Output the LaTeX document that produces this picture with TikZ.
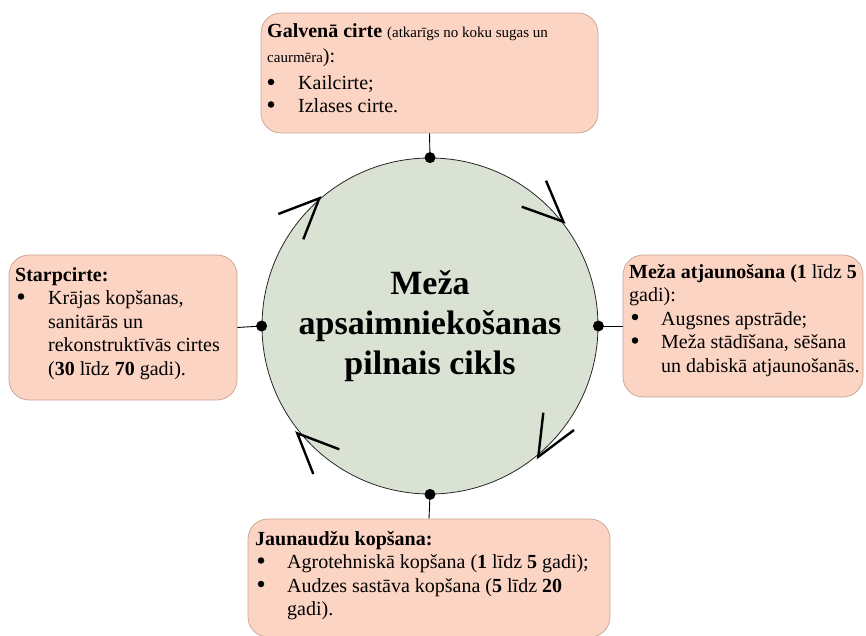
\documentclass[tikz,border=0pt]{standalone}
\usepackage{fontspec}
\setmainfont{Liberation Serif}
\definecolor{boxfill}{HTML}{FBD4C3}
\definecolor{boxline}{HTML}{C9A193}
\definecolor{circfill}{HTML}{DAE3D3}
\begin{document}
\begin{tikzpicture}[x=1pt,y=-1pt,
  box/.style={draw=boxline, line width=0.7pt, fill=boxfill, rounded corners=20pt, inner sep=0pt},
  txt/.style={anchor=base west, inner sep=0pt, font=\fontsize{20}{23.5}\selectfont},
  ctr/.style={align=center, inner sep=0pt, font=\fontsize{34}{40}\selectfont\bfseries},
  dot/.style={circle, fill=black, minimum size=11pt, inner sep=0pt},
  bdot/.style={circle, fill=black, minimum size=6.5pt, inner sep=0pt},
  conn/.style={line width=0.9pt},
  chev/.style={line width=2.4pt, line cap=butt, line join=miter}]
\useasboundingbox (0,0) rectangle (866,636);
% boxes
\node[box, minimum width=337pt, minimum height=120pt] (topb) at (429.5,73) {};
\node[box, minimum width=228pt, minimum height=145pt] (leftb) at (123,327.5) {};
\node[box, minimum width=240pt, minimum height=142pt] (rightb) at (743,326) {};
\node[box, minimum width=362pt, minimum height=118pt] (botb) at (429,578) {};
% circle
\node[circle, draw=black!85, line width=0.8pt, fill=circfill, minimum size=336pt, inner sep=0pt] (cyc) at (430,326) {};
\node[ctr] (title) at (430,326) {Meža\\apsaimniekošanas\\pilnais cikls};
% dots
\node[dot] (dt) at (cyc.north) {};
\node[dot] (db) at (cyc.south) {};
\node[dot] (dl) at (cyc.west) {};
\node[dot] (dr) at (cyc.east) {};
% connectors
\draw[conn] (topb.south) -- (dt.center);
\draw[conn] (botb.north) -- (db.center);
\draw[conn] (leftb.east) -- (dl.center);
\draw[conn] (rightb.west) -- (dr.center);
% chevrons (clockwise)
\draw[chev] (278.3,214) -- (319.3,198.3) -- (303.3,239.3);
\draw[chev] (521.7,206.7) -- (563.3,221.7) -- (546,180.7);
\draw[chev] (543.3,412.7) -- (538.3,456.7) -- (574,430);
\draw[chev] (339.3,449.3) -- (297.3,433.3) -- (313.3,474);
% top box text
\node[txt] (t1) at (267,38) {\textbf{Galvenā cirte} {\fontsize{15}{17}\selectfont(atkarīgs no koku sugas un}};
\node[txt] (t2) at (267,63) {{\fontsize{15}{17}\selectfont caurmēra}):};
\node[bdot] (t3) at (271,82) {};
\node[txt] (t4) at (298,90) {Kailcirte;};
\node[bdot] (t5) at (271,104.5) {};
\node[txt] (t6) at (298,112.5) {Izlases cirte.};
% left box text
\node[txt] (l1) at (15,281) {\textbf{Starpcirte:}};
\node[bdot] (l2) at (21,296.5) {};
\node[txt] (l3) at (48,304.5) {Krājas kopšanas,};
\node[txt] (l4) at (48,328) {sanitārās un};
\node[txt] (l5) at (48,351.5) {rekonstruktīvās cirtes};
\node[txt] (l6) at (48,375) {(\textbf{30} līdz \textbf{70} gadi).};
% right box text
\node[txt] (r1) at (629,278) {\textbf{Meža atjaunošana (1} līdz \textbf{5}};
\node[txt] (r2) at (629,301.5) {gadi):};
\node[bdot] (r3) at (635,317) {};
\node[txt] (r4) at (661,325) {Augsnes apstrāde;};
\node[bdot] (r5) at (635,340.5) {};
\node[txt] (r6) at (661,348.5) {Meža stādīšana, sēšana};
\node[txt] (r7) at (661,372) {un dabiskā atjaunošanās.};
% bottom box text
\node[txt] (b1) at (255,545) {\textbf{Jaunaudžu kopšana:}};
\node[bdot] (b2) at (261,560.5) {};
\node[txt] (b3) at (287,568.5) {Agrotehniskā kopšana (\textbf{1} līdz \textbf{5} gadi);};
\node[bdot] (b4) at (261,584) {};
\node[txt] (b5) at (287,592) {Audzes sastāva kopšana (\textbf{5} līdz \textbf{20}};
\node[txt] (b6) at (287,615.5) {gadi).};
\end{tikzpicture}
\end{document}
